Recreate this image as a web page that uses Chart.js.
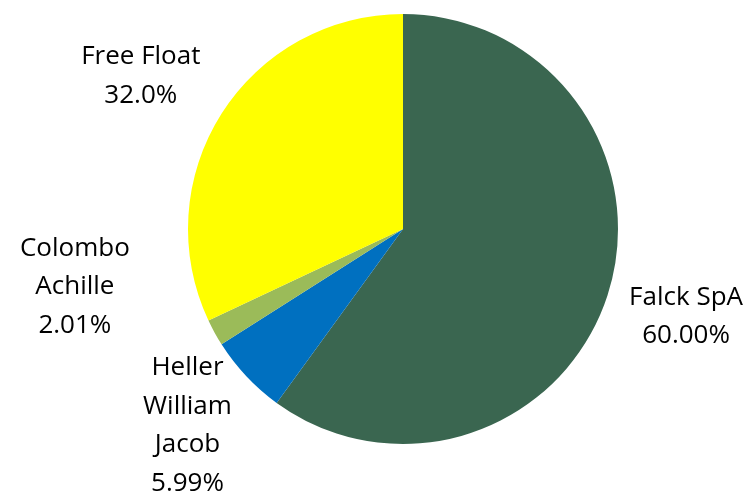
<!DOCTYPE html>
<html>
<head>
<meta charset="utf-8">
<script src="https://cdn.jsdelivr.net/npm/chart.js@4/dist/chart.umd.min.js"></script>
<style>
  html, body { margin: 0; padding: 0; background: #fff; }
  #wrap { width: 751px; height: 496px; }
</style>
</head>
<body>
<div id="wrap"><canvas id="pie"></canvas></div>
<script>
const holders = [["Falck SpA"], ["Heller", "William", "Jacob"], ["Colombo", "Achille"], ["Free Float"]];
const shares = [60.00, 5.99, 2.01, 32.0];
const shareText = ["60.00%", "5.99%", "2.01%", "32.0%"];   // as printed on the chart
const colors = ["#3A6650", "#0070C0", "#9BBB59", "#FFFF00"];

// where each label sits: distance from centre and turn away from the slice middle (degrees)
const labelPlace = [
  { dist: 296, turn: -1 },
  { dist: 291, turn: 1 },
  { dist: 333, turn: 19 },
  { dist: 304, turn: -2 }
];

const outsideLabels = {
  id: "outsideLabels",
  afterDatasetsDraw(chart) {
    const ctx = chart.ctx;
    const arcs = chart.getDatasetMeta(0).data;
    ctx.save();
    ctx.font = "26px 'Open Sans', 'Liberation Sans', sans-serif";
    ctx.fillStyle = "#000";
    ctx.textAlign = "center";
    ctx.textBaseline = "middle";
    const lineH = 38.5;
    arcs.forEach((arc, i) => {
      const p = arc.getProps(["x", "y", "startAngle", "endAngle"], true);
      const mid = (p.startAngle + p.endAngle) / 2 + labelPlace[i].turn * Math.PI / 180;
      const cx = p.x + Math.cos(mid) * labelPlace[i].dist;
      const cy = p.y + Math.sin(mid) * labelPlace[i].dist + 1;
      const lines = holders[i].concat([shareText[i]]);
      const top = cy - (lines.length - 1) * lineH / 2;
      lines.forEach((t, k) => ctx.fillText(t, cx, top + k * lineH));
    });
    ctx.restore();
  }
};

new Chart("pie", {
  type: "pie",
  data: {
    labels: holders.map(h => h.join(" ")),
    datasets: [{
      data: shares,
      backgroundColor: colors,
      borderWidth: 0
    }]
  },
  options: {
    responsive: true,
    maintainAspectRatio: false,
    animation: false,
    layout: { padding: { top: 14, bottom: 52, left: 55, right: 0 } },
    plugins: {
      legend: { display: false },
      tooltip: { enabled: false }
    }
  },
  plugins: [outsideLabels]
});
</script>
</body>
</html>
